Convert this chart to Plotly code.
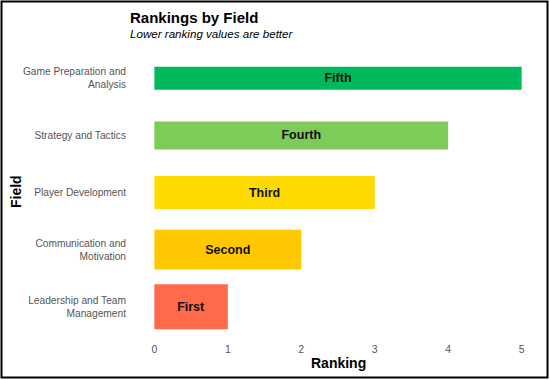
import plotly.graph_objects as go

fields = ["Leadership and Team<br>Management", "Communication and<br>Motivation",
          "Player Development", "Strategy and Tactics", "Game Preparation and<br>Analysis"]
rankings = [1, 2, 3, 4, 5]
rank_labels = ["First", "Second", "Third", "Fourth", "Fifth"]

bar_colors = ["#FF6A4B", "#FFC800", "#FFDA00", "#7ECB5A", "#00B95C"]
bar_widths = [0.79, 0.70, 0.58, 0.49, 0.40]

W, H = 550, 380
L, R, T, B = 136, 10, 44, 39
pw = W - L - R
ph = H - T - B

fig = go.Figure(go.Bar(
    x=rankings, y=list(range(len(fields))), orientation="h",
    width=bar_widths,
    marker=dict(color=bar_colors, line=dict(width=0)),
    text=rank_labels, textposition="inside", insidetextanchor="middle",
    textfont=dict(family="Liberation Sans", size=12.5, color="#111111", weight="bold"),
    hoverinfo="skip",
))

def px2x(p):
    return (p - L) / pw

def py2y(p):
    return 1 - (p - T) / ph

fig.update_layout(
    width=W, height=H,
    margin=dict(l=L, r=R, t=T, b=B),
    paper_bgcolor="white", plot_bgcolor="white",
    showlegend=False,
    font=dict(family="Liberation Sans"),
    xaxis=dict(range=[-0.25, 5.25], showgrid=False, zeroline=False, showline=False,
               tickvals=[0, 1, 2, 3, 4, 5], ticks="", automargin=False,
               tickfont=dict(size=10.5, color="#555555")),
    yaxis=dict(range=[-0.6, 4.6], showgrid=False, zeroline=False, showline=False,
               tickvals=list(range(len(fields))), ticktext=fields, ticks="", automargin=False,
               ticklabelstandoff=9,
               tickfont=dict(size=10.2, color="#555555")),
    annotations=[
        dict(text="<b>Rankings by Field</b>", xref="paper", yref="paper",
             x=px2x(128), y=py2y(17), xanchor="left", yanchor="middle",
             showarrow=False, font=dict(size=15, color="black")),
        dict(text="<i>Lower ranking values are better</i>", xref="paper", yref="paper",
             x=px2x(128), y=py2y(34), xanchor="left", yanchor="middle",
             showarrow=False, font=dict(size=11.6, color="black")),
        dict(text="<b>Ranking</b>", xref="paper", yref="paper",
             x=px2x(338), y=py2y(363), xanchor="center", yanchor="middle",
             showarrow=False, font=dict(size=14, color="black")),
        dict(text="<b>Field</b>", xref="paper", yref="paper", textangle=-90,
             x=px2x(16), y=py2y(192), xanchor="center", yanchor="middle",
             showarrow=False, font=dict(size=14, color="black")),
    ],
    shapes=[dict(type="rect", xref="paper", yref="paper",
                 x0=px2x(1.5), x1=px2x(547.5), y0=py2y(377.5), y1=py2y(1.5),
                 line=dict(color="black", width=2), fillcolor="rgba(0,0,0,0)")],
)

fig.write_html("out.html", config={"displayModeBar": False},
               post_script="document.body.style.margin='0';document.body.style.overflow='hidden';")
